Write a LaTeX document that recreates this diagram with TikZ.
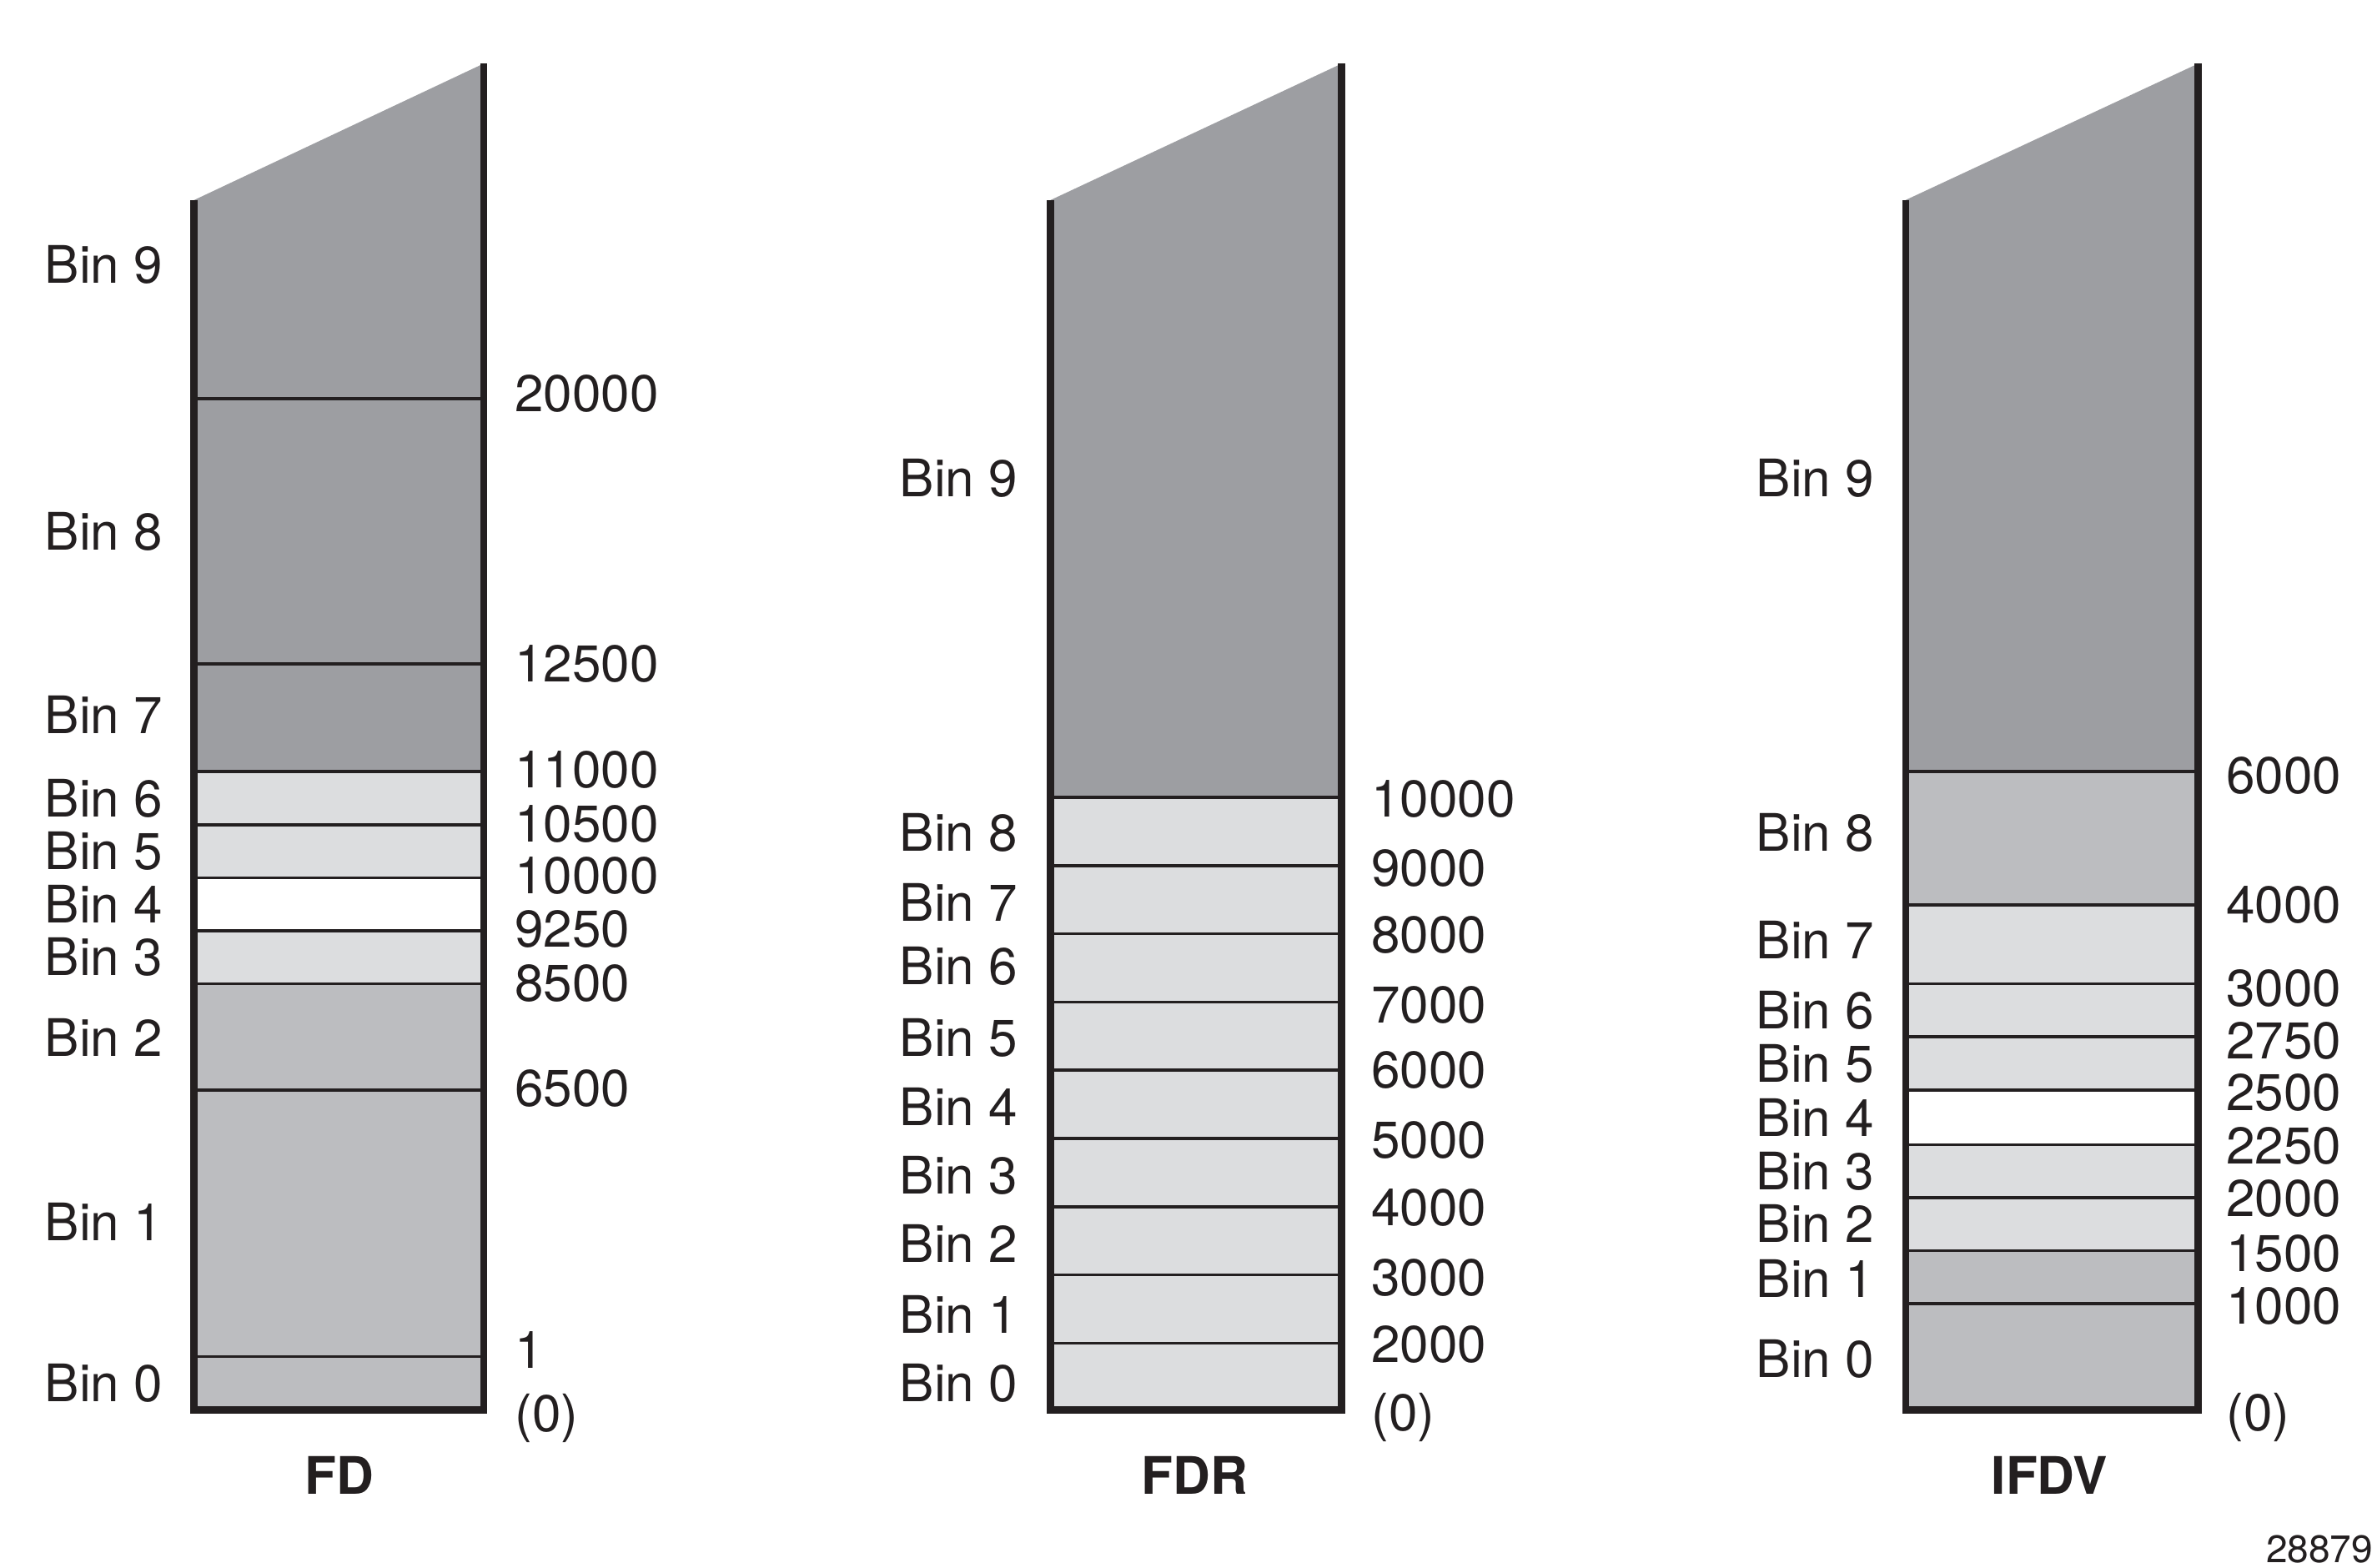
\documentclass[tikz,border=0pt]{standalone}
\usepackage{fontspec}
\setmainfont{TeX Gyre Heros}
\usepackage{xcolor}
\usepackage{tikz}

\definecolor{binOsc}{HTML}{9D9EA2}
\definecolor{binMed}{HTML}{BCBDC0}
\definecolor{binCla}{HTML}{DCDDDF}
\definecolor{linea}{HTML}{231F20}

\begin{document}
\begin{tikzpicture}[x=0.01cm,y=-0.01cm,
  txt/.style={inner sep=0pt,text height=0.72em,text depth=0pt,
              font=\fontsize{9.7}{11}\selectfont,text=linea},
  bin/.style={txt,anchor=east},
  val/.style={txt,anchor=west},
  tit/.style={txt,font=\fontsize{9.7}{11}\selectfont\bfseries},
  div/.style={draw=linea,line width=0.55pt},
  borde/.style={draw=linea,line width=1.3pt}]

  \useasboundingbox (0,0) rectangle (1568,1034);

  % FD
  \fill[binOsc] (128,132) -- (319,42) -- (319,509) -- (128,509) -- cycle;
  \fill[binCla] (128,509) rectangle (319,579);
  \fill[white]  (128,579) rectangle (319,614);
  \fill[binCla] (128,614) rectangle (319,649);
  \fill[binMed] (128,649) rectangle (319,930);
  \foreach \y in {263,438,509,544,579,614,649,719,895}
    \draw[div] (128,\y) -- (319,\y);
  \draw[borde] (128,132) -- (128,930) -- (319,930) -- (319,42);
  \foreach \y/\n in {174/9,350/8,471/7,526/6,561/5,596/4,631/3,684/2,806/1,912/0}
    \node[bin] (fdb\n) at (108,\y) {Bin \n};
  \foreach \y/\v [count=\i] in {259/20000,437/12500,507/11000,543/10500,577/10000,
      612/9250,648/8500,717/6500,890/1,932/(0)}
    \node[val] (fdv\i) at (339,\y) {\v};
  \node[tit] (fd) at (224,973) {FD};

  % FDR
  \fill[binOsc] (693,132) -- (885,42) -- (885,526) -- (693,526) -- cycle;
  \fill[binCla] (693,526) rectangle (885,930);
  \foreach \y in {526,571,616,661,706,751,796,841,886}
    \draw[div] (693,\y) -- (885,\y);
  \draw[borde] (693,132) -- (693,930) -- (885,930) -- (885,42);
  \foreach \y/\n in {315/9,549/8,595/7,637/6,684/5,730/4,775/3,820/2,867/1,912/0}
    \node[bin] (fdrb\n) at (672,\y) {Bin \n};
  \foreach \y/\v [count=\i] in {526/10000,572/9000,616/8000,662/7000,705/6000,
      751/5000,796/4000,842/3000,886/2000,931/(0)}
    \node[val] (fdrv\i) at (904,\y) {\v};
  \node[tit] (fdr) at (788,973) {FDR};

  % IFDV
  \fill[binOsc] (1257,132) -- (1450,42) -- (1450,509) -- (1257,509) -- cycle;
  \fill[binMed] (1257,509) rectangle (1450,597);
  \fill[binCla] (1257,597) rectangle (1450,719);
  \fill[white]  (1257,719) rectangle (1450,755);
  \fill[binCla] (1257,755) rectangle (1450,825);
  \fill[binMed] (1257,825) rectangle (1450,930);
  \foreach \y in {509,597,649,684,719,755,790,825,860}
    \draw[div] (1257,\y) -- (1450,\y);
  \draw[borde] (1257,132) -- (1257,930) -- (1450,930) -- (1450,42);
  \foreach \y/\n in {315/9,549/8,620/7,666/6,701/5,737/4,772/3,807/2,843/1,896/0}
    \node[bin] (ifdvb\n) at (1237,\y) {Bin \n};
  \foreach \y/\v [count=\i] in {511/6000,596/4000,651/3000,686/2750,720/2500,
      755/2250,790/2000,826/1500,861/1000,931/(0)}
    \node[val] (ifdvv\i) at (1468,\y) {\v};
  \node[tit] (ifdv) at (1352,973) {IFDV};

  \node[txt,font=\fontsize{7.2}{8}\selectfont,anchor=east] (num) at (1566,1018) {28879};
\end{tikzpicture}
\end{document}
